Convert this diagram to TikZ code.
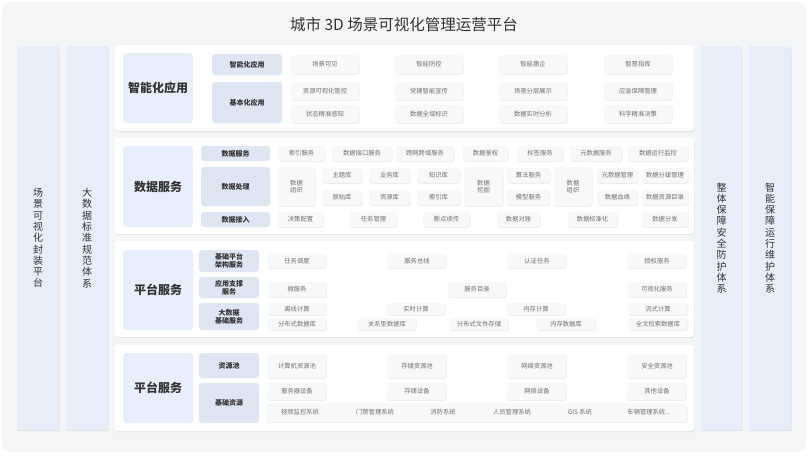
\documentclass[tikz,border=0pt]{standalone}
\usepackage{fontspec}
\setmainfont{Noto Sans CJK SC}
\usetikzlibrary{shadows}
\definecolor{outerbg}{HTML}{F4F5F7}
\definecolor{biglab}{HTML}{E8EFFC}
\definecolor{sublab}{HTML}{DEE6F3}
\definecolor{itemfill}{HTML}{F7F8FA}
\definecolor{sidefill}{HTML}{E7EEFA}
\definecolor{txtdark}{HTML}{333333}
\definecolor{txtgrey}{HTML}{707070}
\tikzset{
  softshadow/.style={general shadow={shadow xshift=0.6pt, shadow yshift=-1.2pt, fill=black, opacity=0.045},
                     general shadow={shadow xshift=0.3pt, shadow yshift=-0.6pt, fill=black, opacity=0.05}},
  panel/.style={fill=white, rounded corners=3pt, inner sep=0pt, softshadow},
  biglabel/.style={fill=biglab, rounded corners=3pt, inner sep=0pt, text=txtdark, font=\bfseries\fontsize{12}{14}\selectfont},
  sublabel/.style={fill=sublab, rounded corners=3pt, inner sep=0pt, text=txtdark, align=center, font=\bfseries\fontsize{7}{8.2}\selectfont},
  itembox/.style={fill=itemfill, rounded corners=3pt, inner sep=0pt, text=txtgrey, align=center, font=\fontsize{6.3}{7.6}\selectfont, softshadow},
  itemtext/.style={inner sep=0pt, text=txtgrey, font=\fontsize{6.3}{7.6}\selectfont},
  sidecol/.style={fill=sidefill, rounded corners=2pt, inner sep=0pt, text=txtdark, align=center, font=\fontsize{10}{11.3}\selectfont, softshadow},
  titletext/.style={inner sep=0pt, text=txtdark, font=\fontsize{15.5}{18}\selectfont}
}
% style, name, x1, y1, x2, y2, text
\newcommand\bx[7]{\node[#1, minimum width={((#5)-(#3))*1pt}, minimum height={((#6)-(#4))*1pt}] (#2) at ({((#3)+(#5))/2},{((#4)+(#6))/2}) {#7};}
% style, name, cx, y1, y2, text  (width 59)
\newcommand\cb[6]{\bx{#1}{#2}{(#3)-29.5}{#4}{(#3)+29.5}{#5}{#6}}
\begin{document}
\begin{tikzpicture}[x=1pt,y=-1pt]
\useasboundingbox (0,0) rectangle (808,455);
\fill[outerbg, rounded corners=9pt] (2,2) rectangle (806,452);
\node[titletext] (title) at (404,25) {城市 3D 场景可视化管理运营平台};

% side columns
\bx{sidecol}{s1}{17}{46}{59}{430}{场\\景\\可\\视\\化\\封\\装\\平\\台}
\bx{sidecol}{s2}{66}{46}{108}{430}{大\\数\\据\\标\\准\\规\\范\\体\\系}
\bx{sidecol}{s3}{701}{46}{742}{430}{整\\体\\保\\障\\安\\全\\防\\护\\体\\系}
\bx{sidecol}{s4}{749}{46}{791}{430}{智\\能\\保\\障\\运\\行\\维\\护\\体\\系}

% panels
\bx{panel}{p1}{115}{45}{694}{131}{}
\bx{panel}{p2}{115}{138}{694}{234}{}
\bx{panel}{p3}{115}{241}{694}{337}{}
\bx{panel}{p4}{115}{345}{694}{431}{}

% ---------- panel 1
\bx{biglabel}{b1}{123}{53}{193}{123}{智能化应用}
\bx{sublabel}{a1}{212}{54}{282}{75}{智能化应用}
\bx{sublabel}{a2}{212}{82}{282}{123}{基本化应用}
\bx{itembox}{i11}{291}{55}{359}{74}{场景可见}
\bx{itembox}{i12}{395}{55}{463}{74}{智能防控}
\bx{itembox}{i13}{499}{55}{567}{74}{智能惠企}
\bx{itembox}{i14}{604}{55}{672}{74}{智慧指挥}
\bx{itembox}{i21}{291}{82}{359}{100}{资源可视化管控}
\bx{itembox}{i22}{395}{82}{463}{100}{党建智能宣传}
\bx{itembox}{i23}{499}{82}{567}{100}{场景分层展示}
\bx{itembox}{i24}{604}{82}{672}{100}{应急保障管理}
\bx{itembox}{i31}{291}{105}{359}{123}{状态精准感知}
\bx{itembox}{i32}{395}{105}{463}{123}{数据全域标识}
\bx{itembox}{i33}{499}{105}{567}{123}{数据实时分析}
\bx{itembox}{i34}{604}{105}{672}{123}{科学精准决策}

% ---------- panel 2
\bx{biglabel}{b2}{123}{146}{193}{227}{数据服务}
\bx{sublabel}{d1}{201}{146}{270}{161}{数据服务}
\bx{sublabel}{d2}{201}{167}{270}{206}{数据处理}
\bx{sublabel}{d3}{201}{212}{270}{227}{数据接入}
\bx{itembox}{j11}{278}{146}{325}{161}{索引服务}
\bx{itembox}{j12}{332}{146}{392}{161}{数据接口服务}
\bx{itembox}{j13}{396}{146}{454}{161}{跨网跨域服务}
\bx{itembox}{j14}{463}{146}{508}{161}{数据鉴权}
\bx{itembox}{j15}{517}{146}{563}{161}{标签服务}
\bx{itembox}{j16}{570}{146}{622}{161}{元数据服务}
\bx{itembox}{j17}{628}{146}{688}{161}{数据运行监控}
\bx{itembox}{k1}{278}{167}{315}{206}{数据\\组织}
\bx{itembox}{k2a}{322}{168}{362}{183}{主题库}
\bx{itembox}{k2b}{322}{190}{362}{205}{原始库}
\bx{itembox}{k3a}{369}{168}{410}{183}{业务库}
\bx{itembox}{k3b}{369}{190}{410}{205}{资源库}
\bx{itembox}{k4a}{417}{168}{460}{183}{知识库}
\bx{itembox}{k4b}{417}{190}{460}{205}{索引库}
\bx{itembox}{k5}{464}{167}{503}{206}{数据\\挖掘}
\bx{itembox}{k6a}{507}{168}{550}{183}{算法服务}
\bx{itembox}{k6b}{507}{190}{550}{205}{模型服务}
\bx{itembox}{k7}{554}{167}{592}{206}{数据\\组织}
\bx{itembox}{k8a}{597}{168}{638}{183}{元数据管理}
\bx{itembox}{k8b}{597}{190}{638}{205}{数据血缘}
\bx{itembox}{k9a}{642}{168}{688}{183}{数据分级管理}
\bx{itembox}{k9b}{642}{190}{688}{205}{数据资源目录}
\bx{itembox}{m1}{278}{212}{323}{227}{决策配置}
\bx{itembox}{m2}{350}{212}{397}{227}{任务管理}
\bx{itembox}{m3}{423}{212}{470}{227}{断点续传}
\bx{itembox}{m4}{497}{212}{540}{227}{数据对账}
\bx{itembox}{m5}{568}{212}{617}{227}{数据标准化}
\bx{itembox}{m6}{642}{212}{688}{227}{数据分发}

% ---------- panel 3
\bx{biglabel}{b3}{123}{250}{193}{330}{平台服务}
\bx{sublabel}{e1}{199}{250}{259}{272}{基础平台\\架构服务}
\bx{sublabel}{e2}{199}{277}{259}{298}{应用支撑\\服务}
\bx{sublabel}{e3}{199}{303}{259}{330}{大数据\\基础服务}
\cb{itembox}{n11}{297}{254}{268}{任务调度}
\cb{itembox}{n12}{417}{254}{268}{服务总线}
\cb{itembox}{n13}{537}{254}{268}{认证任务}
\cb{itembox}{n14}{657}{254}{268}{授权服务}
\cb{itembox}{n21}{297}{282}{297}{微服务}
\cb{itembox}{n22}{477}{282}{297}{服务目录}
\cb{itembox}{n23}{657}{282}{297}{可视化服务}
\cb{itembox}{n31}{297}{303}{315}{离线计算}
\cb{itembox}{n32}{416}{303}{315}{实时计算}
\cb{itembox}{n33}{536}{303}{315}{内存计算}
\cb{itembox}{n34}{658}{303}{315}{流式计算}
\cb{itembox}{n41}{297}{318}{330}{分布式数据库}
\cb{itembox}{n42}{387}{318}{330}{关系型数据库}
\cb{itembox}{n43}{479}{318}{330}{分布式文件存储}
\cb{itembox}{n44}{566}{318}{330}{内存数据库}
\cb{itembox}{n45}{658}{318}{330}{全文检索数据库}

% ---------- panel 4
\bx{biglabel}{b4}{123}{353}{193}{423}{平台服务}
\bx{sublabel}{f1}{199}{353}{259}{378}{资源池}
\bx{sublabel}{f2}{199}{383}{259}{423}{基础资源}
\cb{itembox}{q11}{297}{354}{378}{计算机资源池}
\cb{itembox}{q12}{417}{354}{378}{存储资源池}
\cb{itembox}{q13}{537}{354}{378}{网络资源池}
\cb{itembox}{q14}{657}{354}{378}{安全资源池}
\cb{itembox}{q21}{297}{383}{400}{服务器设备}
\cb{itembox}{q22}{417}{383}{400}{存储设备}
\cb{itembox}{q23}{537}{383}{400}{网络设备}
\cb{itembox}{q24}{657}{383}{400}{其他设备}
\bx{itembox}{q3}{267}{403}{687}{422}{}
\node[itemtext] (r1) at (300,412.5) {视频监控系统};
\node[itemtext] (r2) at (375,412.5) {门禁管理系统};
\node[itemtext] (r3) at (443,412.5) {消防系统};
\node[itemtext] (r4) at (512,412.5) {人员管理系统};
\node[itemtext] (r5) at (580,412.5) {GIS 系统};
\node[itemtext] (r6) at (649,412.5) {车辆管理系统...};
\end{tikzpicture}
\end{document}
